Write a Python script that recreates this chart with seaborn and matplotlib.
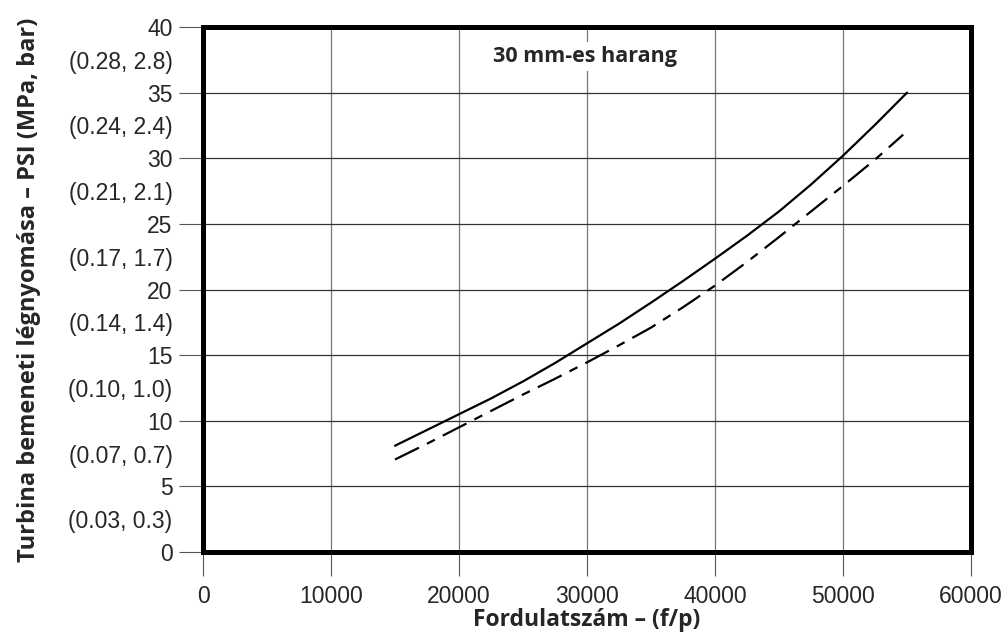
import numpy as np
import pandas as pd
import matplotlib
matplotlib.use("Agg")
import matplotlib.pyplot as plt
import seaborn as sns

# values
rpm = [15000, 17500, 20000, 22500, 25000, 27500, 30000, 32500, 35000,
       37500, 40000, 42500, 45000, 47500, 50000, 52500, 55000]
psi_solid = [8.1, 9.3, 10.5, 11.7, 13.0, 14.4, 15.9, 17.4, 19.0,
             20.65, 22.35, 24.1, 25.95, 28.0, 30.2, 32.55, 35.0]
rpm_dashed = [15000, 17500, 20000, 22500, 25000, 27500, 30000, 32500, 35000,
              37500, 40000, 42500, 45000, 47500, 50000, 52500, 54700]
psi_dashed = [7.05, 8.25, 9.5, 10.75, 12.0, 13.2, 14.45, 15.75, 17.1,
              18.65, 20.3, 22.1, 24.0, 25.95, 27.9, 29.9, 31.8]

x_ticks = [0, 10000, 20000, 30000, 40000, 50000, 60000]
y_major = [0, 5, 10, 15, 20, 25, 30, 35, 40]
y_minor = [2.5, 7.5, 12.5, 17.5, 22.5, 27.5, 32.5, 37.5]
y_minor_labels = ["(0.03, 0.3)", "(0.07, 0.7)", "(0.10, 1.0)", "(0.14, 1.4)",
                  "(0.17, 1.7)", "(0.21, 2.1)", "(0.24, 2.4)", "(0.28, 2.8)"]

title_text = "30 mm-es harang"
x_label = "Fordulatszám – (f/p)"
y_label = "Turbina bemeneti légnyomása – PSI (MPa, bar)"

sns.set_style("white")
plt.rcParams["font.family"] = ["Liberation Sans", "DejaVu Sans"]

fig = plt.figure(figsize=(10.07, 6.37), dpi=100)
ax = fig.add_axes([0.2016, 0.1334, 0.7627, 0.8242])

df_solid = pd.DataFrame({"rpm": rpm, "psi": psi_solid})
df_dashed = pd.DataFrame({"rpm": rpm_dashed, "psi": psi_dashed})

sns.lineplot(data=df_solid, x="rpm", y="psi", color="black", linewidth=1.6, ax=ax)
sns.lineplot(data=df_dashed, x="rpm", y="psi", color="black", linewidth=1.6,
             linestyle=(0, (12, 4, 4, 4)), ax=ax)

ax.set_xlim(0, 60000)
ax.set_ylim(0, 40)

# grid
for xv in x_ticks[1:-1]:
    ax.axvline(xv, color="#777777", lw=0.9, zorder=0)
for yv in y_major[1:-1]:
    ax.axhline(yv, color="#333333", lw=0.9, zorder=0)

tick_fs = 16.5
ax.set_xticks(x_ticks)
ax.set_xticklabels([str(v) for v in x_ticks], fontsize=tick_fs)
ax.set_yticks(y_major)
ax.set_yticklabels([str(v) for v in y_major], fontsize=tick_fs)
ax.set_yticks(y_minor, minor=True)
ax.set_yticklabels(y_minor_labels, minor=True, fontsize=tick_fs)

ax.tick_params(axis="both", which="major", length=17, width=0.8, color="#555555", direction="out")
ax.tick_params(axis="x", which="major", pad=7)
ax.tick_params(axis="y", which="major", pad=5, left=True)
ax.tick_params(axis="y", which="minor", length=0, pad=22)
ax.xaxis.set_ticks_position("bottom")

for sp in ax.spines.values():
    sp.set_visible(True)
    sp.set_color("black")
    sp.set_linewidth(3.6)
    sp.set_zorder(5)

label_font = ["Open Sans", "DejaVu Sans"]
ax.set_xlabel(x_label, fontsize=16.5, fontweight="bold", family=label_font, labelpad=0)
ax.set_ylabel(y_label, fontsize=17, fontweight="bold", family=label_font, labelpad=20)

ax.text(29850, 37.75, title_text, ha="center", va="center", fontsize=15.5,
        fontweight="bold", family=label_font, zorder=3,
        bbox=dict(facecolor="white", edgecolor="none", pad=3))

fig.savefig("out.png", dpi=100)
